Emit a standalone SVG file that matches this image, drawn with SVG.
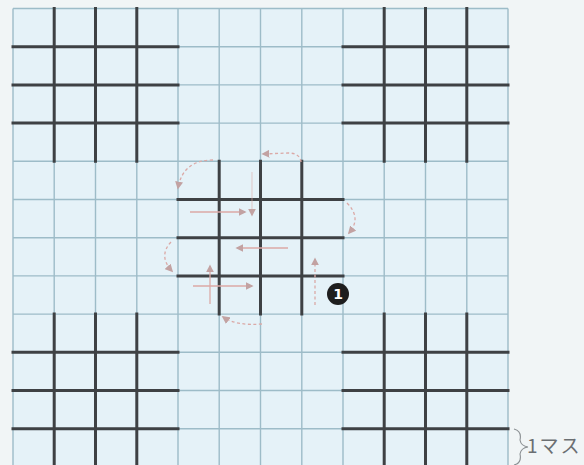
<svg xmlns="http://www.w3.org/2000/svg" width="584" height="465" viewBox="0 0 584 465">
<defs>
<style>
.thin{stroke:#9dbcc8;stroke-width:1.4;fill:none}
.thick{stroke:#3e4144;stroke-width:3;fill:none;stroke-linecap:square}
.arr{stroke:#dba9a6;stroke-width:1.3;fill:none;marker-end:url(#ah)}
.dash{stroke-dasharray:3 2.5}
</style>
<marker id="ah" viewBox="0 0 10 10" refX="8" refY="5" markerWidth="8" markerHeight="8" markerUnits="userSpaceOnUse" orient="auto">
<path d="M0,0 L10,5 L0,10 z" fill="#c2a2a2"/>
</marker>
</defs>
<rect x="0" y="0" width="584" height="465" fill="#f1f5f6"/>
<rect x="13" y="8.5" width="495" height="460" fill="#e5f2f8"/>
<g id="grid">
<path class="thin" d="M13 8.5V465M54.2 8.5V465M95.5 8.5V465M136.8 8.5V465M178 8.5V465M219.2 8.5V465M260.5 8.5V465M301.8 8.5V465M343 8.5V465M384.2 8.5V465M425.5 8.5V465M466.8 8.5V465M508 8.5V465"/>
<path class="thin" d="M13 8.5H508M13 46.7H508M13 84.9H508M13 123.1H508M13 161.3H508M13 199.5H508M13 237.7H508M13 275.9H508M13 314.1H508M13 352.3H508M13 390.5H508M13 428.7H508"/>
</g>
<g id="block-top-left">
<path class="thick" d="M54.2 8.5V161.3M95.5 8.5V161.3M136.8 8.5V161.3M13 46.7H178M13 84.9H178M13 123.1H178"/>
</g>
<g id="block-top-right">
<path class="thick" d="M384.2 8.5V161.3M425.5 8.5V161.3M466.8 8.5V161.3M343 46.7H508M343 84.9H508M343 123.1H508"/>
</g>
<g id="block-center">
<path class="thick" d="M219.2 161.3V314.1M260.5 161.3V314.1M301.8 161.3V314.1M178 199.5H343M178 237.7H343M178 275.9H343"/>
</g>
<g id="block-bottom-left">
<path class="thick" d="M54.2 314.1V466M95.5 314.1V466M136.8 314.1V466M13 352.3H178M13 390.5H178M13 428.7H178"/>
</g>
<g id="block-bottom-right">
<path class="thick" d="M384.2 314.1V466M425.5 314.1V466M466.8 314.1V466M343 352.3H508M343 390.5H508M343 428.7H508"/>
</g>
<g id="connectors">
<path class="arr dash" d="M213 160 Q183 160 178 188"/>
<path class="arr" d="M190 212 L245 212"/>
<path class="arr" d="M252 172 L252 215" stroke-opacity="0.45"/>
<path class="arr dash" d="M301 162 Q300 153 288 153 L263 154"/>
<path class="arr dash" d="M347 203 Q362 218 349 233"/>
<path class="arr" d="M288 248 L237 248"/>
<path class="arr dash" d="M171 242 Q158 256 172 271"/>
<path class="arr" d="M210 304 L210 266"/>
<path class="arr" d="M193 286 L252 286"/>
<path class="arr dash" d="M262 324 Q236 326 223 317"/>
<path class="arr dash" d="M315 305 L315 259"/>
</g>
<g id="marker-1">
<circle cx="338" cy="294" r="11" fill="#1e1e1e"/>
<text x="338" y="299" font-family="DejaVu Sans, sans-serif" font-size="14" font-weight="bold" fill="#ffffff" text-anchor="middle">1</text>
</g>
<g id="scale-label">
<path d="M514 429 Q522 431 520 440 Q521 446 528 447 Q521 448 520 454 Q522 463 514 465" stroke="#8a8f92" stroke-width="1.1" fill="none"/>
<text x="527" y="453" font-family="Noto Sans CJK JP, sans-serif" font-size="19" letter-spacing="2" fill="#6b6f72">1マス</text>
</g>
</svg>
